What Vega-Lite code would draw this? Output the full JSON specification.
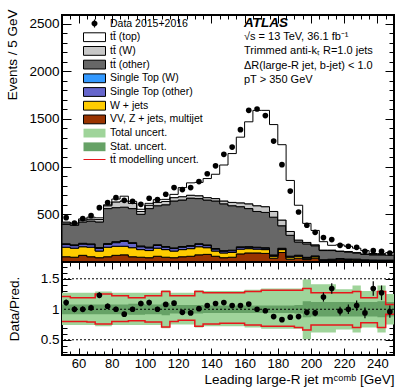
{
  "$schema": "https://vega.github.io/schema/vega-lite/v6.json",
  "padding": {"left": 4, "top": 8, "right": 3, "bottom": 0},
  "spacing": 0,
  "bounds": "flush",
  "config": {
    "view": {"stroke": "black", "strokeWidth": 2},
    "font": "Liberation Sans",
    "axis": {"grid": false, "domain": false, "labelFont": "Liberation Sans", "labelFontSize": 13.5, "labelColor": "black", "titleFont": "Liberation Sans", "titleFontSize": 13.5, "titleFontWeight": "normal", "titleColor": "black", "tickColor": "black", "tickWidth": 1}
  },
  "datasets": {
    "mc": [
      {"lo":50,"vv":55,"wj":100,"sto":28,"stw":8,"tto":204,"ttw":15,"ttt":9},
      {"lo":55,"vv":50,"wj":95,"sto":27,"stw":8,"tto":205,"ttw":15,"ttt":9},
      {"lo":60,"vv":70,"wj":90,"sto":28,"stw":8,"tto":224,"ttw":20,"ttt":12},
      {"lo":65,"vv":55,"wj":100,"sto":27,"stw":8,"tto":240,"ttw":20,"ttt":20},
      {"lo":70,"vv":45,"wj":70,"sto":28,"stw":8,"tto":269,"ttw":25,"ttt":18},
      {"lo":75,"vv":55,"wj":100,"sto":30,"stw":8,"tto":367,"ttw":30,"ttt":10},
      {"lo":80,"vv":70,"wj":95,"sto":38,"stw":10,"tto":357,"ttw":60,"ttt":30},
      {"lo":85,"vv":75,"wj":90,"sto":50,"stw":10,"tto":350,"ttw":65,"ttt":50},
      {"lo":90,"vv":55,"wj":95,"sto":45,"stw":8,"tto":357,"ttw":55,"ttt":21},
      {"lo":95,"vv":50,"wj":80,"sto":30,"stw":8,"tto":332,"ttw":30,"ttt":23},
      {"lo":100,"vv":45,"wj":75,"sto":28,"stw":8,"tto":404,"ttw":35,"ttt":20},
      {"lo":105,"vv":60,"wj":85,"sto":28,"stw":8,"tto":409,"ttw":35,"ttt":29},
      {"lo":110,"vv":50,"wj":80,"sto":25,"stw":7,"tto":438,"ttw":35,"ttt":22},
      {"lo":115,"vv":45,"wj":70,"sto":26,"stw":7,"tto":492,"ttw":35,"ttt":34},
      {"lo":120,"vv":55,"wj":75,"sto":25,"stw":7,"tto":488,"ttw":35,"ttt":95},
      {"lo":125,"vv":60,"wj":80,"sto":25,"stw":7,"tto":498,"ttw":30,"ttt":130},
      {"lo":130,"vv":75,"wj":85,"sto":25,"stw":7,"tto":473,"ttw":30,"ttt":140},
      {"lo":135,"vv":80,"wj":70,"sto":22,"stw":7,"tto":471,"ttw":25,"ttt":200},
      {"lo":140,"vv":60,"wj":55,"sto":20,"stw":6,"tto":499,"ttw":25,"ttt":255},
      {"lo":145,"vv":45,"wj":50,"sto":18,"stw":6,"tto":491,"ttw":30,"ttt":377},
      {"lo":150,"vv":50,"wj":50,"sto":18,"stw":6,"tto":466,"ttw":35,"ttt":512},
      {"lo":155,"vv":85,"wj":50,"sto":18,"stw":6,"tto":421,"ttw":40,"ttt":689},
      {"lo":160,"vv":95,"wj":45,"sto":15,"stw":6,"tto":399,"ttw":50,"ttt":860},
      {"lo":165,"vv":95,"wj":40,"sto":15,"stw":5,"tto":375,"ttw":60,"ttt":1000},
      {"lo":170,"vv":90,"wj":40,"sto":15,"stw":5,"tto":370,"ttw":60,"ttt":1010},
      {"lo":175,"vv":40,"wj":20,"sto":10,"stw":4,"tto":396,"ttw":60,"ttt":911},
      {"lo":180,"vv":100,"wj":30,"sto":10,"stw":4,"tto":236,"ttw":60,"ttt":790},
      {"lo":185,"vv":30,"wj":20,"sto":8,"stw":3,"tto":219,"ttw":40,"ttt":535},
      {"lo":190,"vv":40,"wj":20,"sto":8,"stw":3,"tto":139,"ttw":20,"ttt":365},
      {"lo":195,"vv":25,"wj":15,"sto":6,"stw":3,"tto":141,"ttw":15,"ttt":200},
      {"lo":200,"vv":40,"wj":15,"sto":6,"stw":3,"tto":106,"ttw":10,"ttt":151},
      {"lo":205,"vv":10,"wj":8,"sto":4,"stw":2,"tto":96,"ttw":5,"ttt":88},
      {"lo":210,"vv":15,"wj":8,"sto":4,"stw":2,"tto":91,"ttw":5,"ttt":50},
      {"lo":215,"vv":20,"wj":10,"sto":4,"stw":2,"tto":74,"ttw":5,"ttt":65},
      {"lo":220,"vv":15,"wj":10,"sto":4,"stw":2,"tto":74,"ttw":5,"ttt":55},
      {"lo":225,"vv":15,"wj":10,"sto":3,"stw":2,"tto":65,"ttw":5,"ttt":45},
      {"lo":230,"vv":10,"wj":8,"sto":3,"stw":2,"tto":57,"ttw":5,"ttt":34},
      {"lo":235,"vv":10,"wj":6,"sto":3,"stw":2,"tto":54,"ttw":5,"ttt":9},
      {"lo":240,"vv":10,"wj":6,"sto":3,"stw":1,"tto":55,"ttw":3,"ttt":10},
      {"lo":245,"vv":10,"wj":6,"sto":3,"stw":1,"tto":50,"ttw":2,"ttt":26},
      {"lo":250,"vv":10,"wj":6,"sto":3,"stw":1,"tto":50,"ttw":2,"ttt":26}
    ],
    "obs": [
      {"m":52.5,"n":465,"r":1.11,"e":0.05},
      {"m":57.5,"n":409,"r":1.0,"e":0.05},
      {"m":62.5,"n":455,"r":1.0,"e":0.05},
      {"m":67.5,"n":486,"r":1.025,"e":0.05},
      {"m":72.5,"n":570,"r":1.23,"e":0.05},
      {"m":77.5,"n":623,"r":1.05,"e":0.045},
      {"m":82.5,"n":675,"r":1.0,"e":0.04},
      {"m":87.5,"n":647,"r":0.92,"e":0.04},
      {"m":92.5,"n":636,"r":1.0,"e":0.04},
      {"m":97.5,"n":605,"r":1.095,"e":0.045},
      {"m":102.5,"n":668,"r":1.11,"e":0.045},
      {"m":107.5,"n":654,"r":1.0,"e":0.04},
      {"m":112.5,"n":710,"r":1.08,"e":0.04},
      {"m":117.5,"n":780,"r":1.1,"e":0.04},
      {"m":122.5,"n":759,"r":0.95,"e":0.035},
      {"m":127.5,"n":780,"r":0.94,"e":0.035},
      {"m":132.5,"n":843,"r":1.01,"e":0.035},
      {"m":137.5,"n":925,"r":1.06,"e":0.035},
      {"m":142.5,"n":1008,"r":1.095,"e":0.035},
      {"m":147.5,"n":1129,"r":1.11,"e":0.033},
      {"m":152.5,"n":1205,"r":1.06,"e":0.03},
      {"m":157.5,"n":1388,"r":1.06,"e":0.03},
      {"m":162.5,"n":1590,"r":1.085,"e":0.027},
      {"m":167.5,"n":1604,"r":1.0,"e":0.025},
      {"m":172.5,"n":1535,"r":0.975,"e":0.025},
      {"m":177.5,"n":1268,"r":0.88,"e":0.025},
      {"m":182.5,"n":1021,"r":0.83,"e":0.026},
      {"m":187.5,"n":744,"r":0.87,"e":0.032},
      {"m":192.5,"n":524,"r":0.88,"e":0.038},
      {"m":197.5,"n":385,"r":0.95,"e":0.048},
      {"m":202.5,"n":311,"r":0.94,"e":0.053},
      {"m":207.5,"n":256,"r":1.2,"e":0.075},
      {"m":212.5,"n":235,"r":1.34,"e":0.087},
      {"m":217.5,"n":175,"r":0.97,"e":0.073},
      {"m":222.5,"n":165,"r":1.0,"e":0.078},
      {"m":227.5,"n":154,"r":1.06,"e":0.085},
      {"m":232.5,"n":112,"r":0.94,"e":0.089},
      {"m":237.5,"n":119,"r":1.34,"e":0.12},
      {"m":242.5,"n":112,"r":1.27,"e":0.12},
      {"m":247.5,"n":94,"r":0.96,"e":0.1}
    ],
    "unc": [
      {"lo":50,"tu":1.27,"td":0.74,"su":1.08,"sd":0.92,"mu":1.21,"md":0.8},
      {"lo":55,"tu":1.27,"td":0.74,"su":1.08,"sd":0.92,"mu":1.19,"md":0.8},
      {"lo":60,"tu":1.27,"td":0.74,"su":1.08,"sd":0.92,"mu":1.19,"md":0.8},
      {"lo":65,"tu":1.27,"td":0.74,"su":1.08,"sd":0.92,"mu":1.19,"md":0.79},
      {"lo":70,"tu":1.29,"td":0.72,"su":1.08,"sd":0.92,"mu":1.25,"md":0.76},
      {"lo":75,"tu":1.29,"td":0.72,"su":1.08,"sd":0.92,"mu":1.25,"md":0.76},
      {"lo":80,"tu":1.27,"td":0.74,"su":1.08,"sd":0.92,"mu":1.22,"md":0.8},
      {"lo":85,"tu":1.27,"td":0.74,"su":1.08,"sd":0.92,"mu":1.22,"md":0.8},
      {"lo":90,"tu":1.27,"td":0.74,"su":1.09,"sd":0.91,"mu":1.19,"md":0.81},
      {"lo":95,"tu":1.27,"td":0.74,"su":1.09,"sd":0.91,"mu":1.19,"md":0.81},
      {"lo":100,"tu":1.27,"td":0.74,"su":1.08,"sd":0.92,"mu":1.22,"md":0.79},
      {"lo":105,"tu":1.27,"td":0.74,"su":1.08,"sd":0.92,"mu":1.22,"md":0.79},
      {"lo":110,"tu":1.31,"td":0.69,"su":1.1,"sd":0.9,"mu":1.29,"md":0.71},
      {"lo":115,"tu":1.27,"td":0.75,"su":1.07,"sd":0.93,"mu":1.22,"md":0.8},
      {"lo":120,"tu":1.27,"td":0.75,"su":1.07,"sd":0.93,"mu":1.22,"md":0.82},
      {"lo":125,"tu":1.27,"td":0.75,"su":1.07,"sd":0.93,"mu":1.22,"md":0.82},
      {"lo":130,"tu":1.31,"td":0.7,"su":1.07,"sd":0.93,"mu":1.29,"md":0.72},
      {"lo":135,"tu":1.3,"td":0.72,"su":1.06,"sd":0.94,"mu":1.27,"md":0.76},
      {"lo":140,"tu":1.3,"td":0.72,"su":1.06,"sd":0.94,"mu":1.27,"md":0.76},
      {"lo":145,"tu":1.3,"td":0.72,"su":1.06,"sd":0.94,"mu":1.27,"md":0.77},
      {"lo":150,"tu":1.3,"td":0.72,"su":1.06,"sd":0.94,"mu":1.27,"md":0.77},
      {"lo":155,"tu":1.3,"td":0.72,"su":1.06,"sd":0.94,"mu":1.27,"md":0.77},
      {"lo":160,"tu":1.32,"td":0.7,"su":1.06,"sd":0.94,"mu":1.29,"md":0.74},
      {"lo":165,"tu":1.32,"td":0.7,"su":1.06,"sd":0.94,"mu":1.29,"md":0.74},
      {"lo":170,"tu":1.34,"td":0.68,"su":1.06,"sd":0.94,"mu":1.31,"md":0.72},
      {"lo":175,"tu":1.34,"td":0.68,"su":1.06,"sd":0.94,"mu":1.31,"md":0.72},
      {"lo":180,"tu":1.34,"td":0.68,"su":1.06,"sd":0.94,"mu":1.31,"md":0.72},
      {"lo":185,"tu":1.34,"td":0.68,"su":1.06,"sd":0.94,"mu":1.31,"md":0.72},
      {"lo":190,"tu":1.34,"td":0.68,"su":1.07,"sd":0.93,"mu":1.31,"md":0.7},
      {"lo":195,"tu":1.49,"td":0.51,"su":1.13,"sd":0.87,"mu":1.34,"md":0.66},
      {"lo":200,"tu":1.41,"td":0.62,"su":1.12,"sd":0.88,"mu":1.27,"md":0.74},
      {"lo":205,"tu":1.41,"td":0.62,"su":1.12,"sd":0.88,"mu":1.27,"md":0.74},
      {"lo":210,"tu":1.41,"td":0.62,"su":1.12,"sd":0.88,"mu":1.27,"md":0.74},
      {"lo":215,"tu":1.33,"td":0.67,"su":1.12,"sd":0.88,"mu":1.27,"md":0.74},
      {"lo":220,"tu":1.33,"td":0.67,"su":1.12,"sd":0.88,"mu":1.27,"md":0.74},
      {"lo":225,"tu":1.39,"td":0.62,"su":1.12,"sd":0.88,"mu":1.29,"md":0.7},
      {"lo":230,"tu":1.3,"td":0.7,"su":1.12,"sd":0.88,"mu":1.19,"md":0.78},
      {"lo":235,"tu":1.3,"td":0.7,"su":1.12,"sd":0.88,"mu":1.19,"md":0.78},
      {"lo":240,"tu":1.39,"td":0.62,"su":1.13,"sd":0.87,"mu":1.29,"md":0.7},
      {"lo":245,"tu":1.25,"td":0.75,"su":1.12,"sd":0.88,"mu":1.08,"md":0.92},
      {"lo":250,"tu":1.25,"td":0.75,"su":1.12,"sd":0.88,"mu":1.08,"md":0.92}
    ],
    "lines": [{"v":0.5},{"v":1},{"v":1.5}],
    "keys": [{"k":"data"}]
  },
  "vconcat": [
    {
      "width": 332,
      "height": 247,
      "title": {
        "text": "ATLAS",
        "subtitle": ["√s = 13 TeV, 36.1 fb⁻¹", "Trimmed anti-kₜ R=1.0 jets", "ΔR(large-R jet, b-jet) < 1.0", "pT > 350 GeV"],
        "anchor": "start", "frame": "group", "orient": "top", "offset": 0,
        "dx": 182, "dy": 76,
        "font": "Liberation Sans", "fontSize": 13.5, "fontStyle": "italic", "fontWeight": "bold", "color": "black",
        "subtitleFont": "Liberation Sans", "subtitleFontSize": 11, "subtitleColor": "black", "subtitleLineHeight": 14.5, "subtitlePadding": 1
      },
      "resolve": {"axis": {"x": "independent", "y": "independent"}, "scale": {"fill": "independent", "stroke": "independent", "shape": "independent"}},
      "layer": [
        {
          "data": {"name": "mc"},
          "transform": [
            {"fold": ["vv","wj","sto","stw","tto","ttw","ttt"], "as": ["k","v"]},
            {"calculate": "indexof(['vv','wj','sto','stw','tto','ttw','ttt'], datum.k)", "as": "ord"}
          ],
          "mark": {"type": "area", "interpolate": "step-after", "stroke": "black", "strokeWidth": 1},
          "encoding": {
            "x": {"field": "lo", "type": "quantitative", "scale": {"domain": [50, 250], "nice": false, "zero": false},
                  "axis": {"orient": "bottom", "values": [60,80,100,120,140,160,180,200,220,240], "labels": false, "tickSize": -8, "title": null}},
            "y": {"field": "v", "type": "quantitative", "stack": "zero", "scale": {"domain": [0, 2590], "nice": false, "zero": false},
                  "axis": {"orient": "left", "values": [500,1000,1500,2000,2500], "format": "d", "tickSize": -9, "labelPadding": 12,
                           "title": "Events / 5 GeV", "titleAnchor": "end", "titleAlign": "right", "titleBaseline": "bottom", "titleAngle": 270, "titleX": -43, "titleY": -6}},
            "fill": {"field": "k", "type": "nominal", "scale": {"domain": ["ttt","ttw","tto","stw","sto","wj","vv"], "range": ["white","#c8c8c8","#676767","#3399ff","#6666cc","#ffcc00","#993300"]}, "legend": null},
            "order": {"field": "ord", "type": "quantitative"}
          }
        },
        {
          "data": {"name": "obs"},
          "mark": {"type": "circle", "size": 32, "color": "black", "opacity": 1},
          "encoding": {
            "x": {"field": "m", "type": "quantitative", "scale": {"domain": [50, 250], "nice": false, "zero": false},
                  "axis": {"orient": "top", "values": [60,80,100,120,140,160,180,200,220,240], "labels": false, "tickSize": -8, "title": null}},
            "y": {"field": "n", "type": "quantitative", "scale": {"domain": [0, 2590], "nice": false, "zero": false},
                  "axis": {"orient": "right", "values": [500,1000,1500,2000,2500], "labels": false, "tickSize": -9, "title": null}}
          }
        },
        {
          "data": {"name": "keys"},
          "transform": [{"filter": "false"}],
          "mark": {"type": "point", "filled": true, "opacity": 1},
          "encoding": {
            "x": {"field": "lo", "type": "quantitative", "scale": {"domain": [50, 250], "nice": false, "zero": false},
                  "axis": {"orient": "bottom", "values": [55,60,65,70,75,80,85,90,95,100,105,110,115,120,125,130,135,140,145,150,155,160,165,170,175,180,185,190,195,200,205,210,215,220,225,230,235,240,245], "labels": false, "tickSize": -4, "title": null}},
            "y": {"field": "v", "type": "quantitative", "scale": {"domain": [0, 2590], "nice": false, "zero": false},
                  "axis": {"orient": "left", "values": [100,200,300,400,500,600,700,800,900,1000,1100,1200,1300,1400,1500,1600,1700,1800,1900,2000,2100,2200,2300,2400,2500], "labels": false, "tickSize": -5, "title": null}},
            "fill": {"field": "k", "type": "nominal",
                     "scale": {"domain": ["data","ttt","ttw","tto","stw","sto","wj","vv","tot","stat","mod"], "range": ["black","white","#c8c8c8","#676767","#3399ff","#6666cc","#ffcc00","#993300","#9fd49a","#66a266","transparent"]},
                     "legend": {"title": null, "orient": "none", "legendX": 27, "legendY": 3, "columns": 1, "symbolSize": 100, "symbolStrokeWidth": 1, "labelFont": "Liberation Sans", "labelFontSize": 10.5, "labelColor": "black", "labelOffset": 10, "rowPadding": 0.7, "padding": 0,
                                "labelExpr": "datum.value == 'data' ? 'Data 2015+2016' : datum.value == 'ttt' ? 'tt\u0304 (top)' : datum.value == 'ttw' ? 'tt\u0304 (W)' : datum.value == 'tto' ? 'tt\u0304 (other)' : datum.value == 'stw' ? 'Single Top (W)' : datum.value == 'sto' ? 'Single Top (other)' : datum.value == 'wj' ? 'W + jets' : datum.value == 'vv' ? 'VV, Z + jets, multijet' : datum.value == 'tot' ? 'Total uncert.' : datum.value == 'stat' ? 'Stat. uncert.' : 'tt\u0304 modelling uncert.'"}},
            "stroke": {"field": "k", "type": "nominal",
                     "scale": {"domain": ["data","ttt","ttw","tto","stw","sto","wj","vv","tot","stat","mod"], "range": ["transparent","black","black","black","black","black","black","black","transparent","transparent","#e8161b"]},
                     "legend": {"title": null, "orient": "none", "legendX": 27, "legendY": 3, "columns": 1, "symbolSize": 100, "symbolStrokeWidth": 1, "labelFont": "Liberation Sans", "labelFontSize": 10.5, "labelColor": "black", "labelOffset": 10, "rowPadding": 0.7, "padding": 0,
                                "labelExpr": "datum.value == 'data' ? 'Data 2015+2016' : datum.value == 'ttt' ? 'tt\u0304 (top)' : datum.value == 'ttw' ? 'tt\u0304 (W)' : datum.value == 'tto' ? 'tt\u0304 (other)' : datum.value == 'stw' ? 'Single Top (W)' : datum.value == 'sto' ? 'Single Top (other)' : datum.value == 'wj' ? 'W + jets' : datum.value == 'vv' ? 'VV, Z + jets, multijet' : datum.value == 'tot' ? 'Total uncert.' : datum.value == 'stat' ? 'Stat. uncert.' : 'tt\u0304 modelling uncert.'"}},
            "shape": {"field": "k", "type": "nominal",
                     "scale": {"domain": ["data","ttt","ttw","tto","stw","sto","wj","vv","tot","stat","mod"], "range": ["M2.2,0H-2.2M-0.11,-0.8H0.11V0.8H-0.11ZM0.6,0A0.6,0.6,0,1,1,-0.6,0A0.6,0.6,0,1,1,0.6,0Z","M-2.2,-0.88H2.2V0.88H-2.2Z","M-2.2,-0.88H2.2V0.88H-2.2Z","M-2.2,-0.88H2.2V0.88H-2.2Z","M-2.2,-0.88H2.2V0.88H-2.2Z","M-2.2,-0.88H2.2V0.88H-2.2Z","M-2.2,-0.88H2.2V0.88H-2.2Z","M-2.2,-0.88H2.2V0.88H-2.2Z","M-2.2,-0.88H2.2V0.88H-2.2Z","M-2.2,-0.88H2.2V0.88H-2.2Z","M-2.2,0H2.2"]},
                     "legend": {"title": null, "orient": "none", "legendX": 27, "legendY": 3, "columns": 1, "symbolSize": 100, "symbolStrokeWidth": 1, "labelFont": "Liberation Sans", "labelFontSize": 10.5, "labelColor": "black", "labelOffset": 10, "rowPadding": 0.7, "padding": 0,
                                "labelExpr": "datum.value == 'data' ? 'Data 2015+2016' : datum.value == 'ttt' ? 'tt\u0304 (top)' : datum.value == 'ttw' ? 'tt\u0304 (W)' : datum.value == 'tto' ? 'tt\u0304 (other)' : datum.value == 'stw' ? 'Single Top (W)' : datum.value == 'sto' ? 'Single Top (other)' : datum.value == 'wj' ? 'W + jets' : datum.value == 'vv' ? 'VV, Z + jets, multijet' : datum.value == 'tot' ? 'Total uncert.' : datum.value == 'stat' ? 'Stat. uncert.' : 'tt\u0304 modelling uncert.'"}}
          }
        },
        {
          "data": {"values": [{"lo": 50, "v": 0}]},
          "transform": [{"filter": "false"}],
          "mark": {"type": "point", "opacity": 0},
          "encoding": {
            "x": {"field": "lo", "type": "quantitative", "scale": {"domain": [50, 250], "nice": false, "zero": false},
                  "axis": {"orient": "top", "values": [55,60,65,70,75,80,85,90,95,100,105,110,115,120,125,130,135,140,145,150,155,160,165,170,175,180,185,190,195,200,205,210,215,220,225,230,235,240,245], "labels": false, "tickSize": -4, "title": null}},
            "y": {"field": "v", "type": "quantitative", "scale": {"domain": [0, 2590], "nice": false, "zero": false},
                  "axis": {"orient": "right", "values": [100,200,300,400,500,600,700,800,900,1000,1100,1200,1300,1400,1500,1600,1700,1800,1900,2000,2100,2200,2300,2400,2500], "labels": false, "tickSize": -5, "title": null}}
          }
        }
      ]
    },
    {
      "width": 332,
      "height": 93,
      "resolve": {"axis": {"x": "independent", "y": "independent"}},
      "layer": [
        {
          "data": {"name": "unc"},
          "mark": {"type": "area", "interpolate": "step-after", "color": "#9fd49a"},
          "encoding": {
            "x": {"field": "lo", "type": "quantitative", "scale": {"domain": [50, 250], "nice": false, "zero": false},
                  "axis": {"orient": "bottom", "values": [60,80,100,120,140,160,180,200,220,240], "tickSize": -7, "labelPadding": 9, "labelFontSize": 13,
                           "title": "Leading large-R jet mᶜᵒᵐᵇ [GeV]", "titleAnchor": "end", "titleBaseline": "alphabetic", "titleY": 28}},
            "y": {"field": "tu", "type": "quantitative", "scale": {"domain": [0.25, 1.775], "nice": false, "zero": false},
                  "axis": {"orient": "left", "values": [0.5, 1, 1.5], "format": "~g", "tickSize": -9, "labelPadding": 12,
                           "title": "Data/Pred.", "titleBaseline": "bottom", "titleAngle": 270, "titleX": -41}},
            "y2": {"field": "td"}
          }
        },
        {
          "data": {"name": "unc"},
          "mark": {"type": "area", "interpolate": "step-after", "color": "#66a266"},
          "encoding": {
            "x": {"field": "lo", "type": "quantitative", "scale": {"domain": [50, 250], "nice": false, "zero": false},
                  "axis": {"orient": "top", "values": [60,80,100,120,140,160,180,200,220,240], "labels": false, "tickSize": -7, "title": null}},
            "y": {"field": "su", "type": "quantitative", "scale": {"domain": [0.25, 1.775], "nice": false, "zero": false},
                  "axis": {"orient": "right", "values": [0.5, 1, 1.5], "labels": false, "tickSize": -9, "title": null}},
            "y2": {"field": "sd"}
          }
        },
        {
          "data": {"name": "unc"},
          "mark": {"type": "line", "interpolate": "step-after", "color": "#e8161b", "strokeWidth": 1.5},
          "encoding": {
            "x": {"field": "lo", "type": "quantitative", "scale": {"domain": [50, 250], "nice": false, "zero": false},
                  "axis": {"orient": "bottom", "values": [55,60,65,70,75,80,85,90,95,100,105,110,115,120,125,130,135,140,145,150,155,160,165,170,175,180,185,190,195,200,205,210,215,220,225,230,235,240,245], "labels": false, "tickSize": -4, "title": null}},
            "y": {"field": "mu", "type": "quantitative", "scale": {"domain": [0.25, 1.775], "nice": false, "zero": false},
                  "axis": {"orient": "left", "values": [0.3,0.4,0.5,0.6,0.7,0.8,0.9,1,1.1,1.2,1.3,1.4,1.5,1.6,1.7], "labels": false, "tickSize": -5, "title": null}}
          }
        },
        {
          "data": {"name": "unc"},
          "mark": {"type": "line", "interpolate": "step-after", "color": "#e8161b", "strokeWidth": 1.5},
          "encoding": {
            "x": {"field": "lo", "type": "quantitative", "scale": {"domain": [50, 250], "nice": false, "zero": false},
                  "axis": {"orient": "top", "values": [55,60,65,70,75,80,85,90,95,100,105,110,115,120,125,130,135,140,145,150,155,160,165,170,175,180,185,190,195,200,205,210,215,220,225,230,235,240,245], "labels": false, "tickSize": -4, "title": null}},
            "y": {"field": "md", "type": "quantitative", "scale": {"domain": [0.25, 1.775], "nice": false, "zero": false},
                  "axis": {"orient": "right", "values": [0.3,0.4,0.5,0.6,0.7,0.8,0.9,1,1.1,1.2,1.3,1.4,1.5,1.6,1.7], "labels": false, "tickSize": -5, "title": null}}
          }
        },
        {
          "data": {"name": "lines"},
          "mark": {"type": "rule", "color": "black", "strokeWidth": 1, "strokeDash": [2, 2]},
          "encoding": {
            "y": {"field": "v", "type": "quantitative", "scale": {"domain": [0.25, 1.775], "nice": false, "zero": false}, "axis": null}
          }
        },
        {
          "data": {"name": "obs"},
          "mark": {"type": "errorbar", "color": "black", "thickness": 1.2},
          "encoding": {
            "x": {"field": "m", "type": "quantitative", "scale": {"domain": [50, 250], "nice": false, "zero": false}, "axis": null},
            "y": {"field": "r", "type": "quantitative", "scale": {"domain": [0.25, 1.775], "nice": false, "zero": false}, "axis": null},
            "yError": {"field": "e"}
          }
        },
        {
          "data": {"name": "obs"},
          "mark": {"type": "circle", "size": 32, "color": "black", "opacity": 1},
          "encoding": {
            "x": {"field": "m", "type": "quantitative", "scale": {"domain": [50, 250], "nice": false, "zero": false}, "axis": null},
            "y": {"field": "r", "type": "quantitative", "scale": {"domain": [0.25, 1.775], "nice": false, "zero": false}, "axis": null}
          }
        }
      ]
    }
  ]
}
